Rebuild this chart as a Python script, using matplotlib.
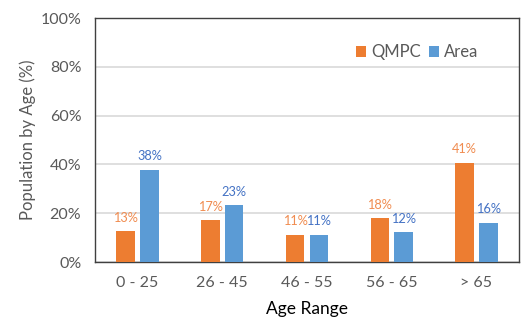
import numpy as np
import matplotlib
matplotlib.use("Agg")
import matplotlib.pyplot as plt

# Values (percent)
age_ranges = ["0 - 25", "26 - 45", "46 - 55", "56 - 65", "> 65"]
qmpc = [12.7, 17.1, 11.2, 17.9, 40.8]
area = [37.9, 23.3, 11.2, 12.2, 16.1]

orange = "#ED7D31"
blue = "#5B9BD5"
text_grey = "#595959"

plt.rcParams["font.family"] = ["Lato", "DejaVu Sans"]

fig = plt.figure(figsize=(5.23, 3.18), dpi=100)
ax = fig.add_axes([0.182, 0.176, 0.810, 0.767])

x = np.arange(len(age_ranges))
width = 0.22
offset = 0.14

bars_q = ax.bar(x - offset, qmpc, width, color=orange, label="QMPC", zorder=3)
bars_a = ax.bar(x + offset, area, width, color=blue, label="Area", zorder=3)

# Data labels
for rect, val in zip(bars_q, qmpc):
    ax.text(rect.get_x() + rect.get_width() / 2, val + 3, f"{val:.0f}%",
            ha="center", va="bottom", color="#F08C50", fontsize=9.2)
for rect, val in zip(bars_a, area):
    ax.text(rect.get_x() + rect.get_width() / 2, val + 3, f"{val:.0f}%",
            ha="center", va="bottom", color="#4472C4", fontsize=9.2)

ax.set_xlim(-0.5, len(age_ranges) - 0.5)
ax.set_ylim(0, 100)
ax.set_yticks(range(0, 101, 20))
ax.set_yticklabels([f"{v}%" for v in range(0, 101, 20)])
ax.set_xticks(x)
ax.set_xticklabels(age_ranges)

ax.yaxis.grid(True, color="#D9D9D9", linewidth=1.2, zorder=0)
ax.set_axisbelow(True)
for spine in ax.spines.values():
    spine.set_color("#404040")
    spine.set_linewidth(1.0)

ax.tick_params(axis="both", length=0, labelsize=11.5, colors=text_grey)
ax.tick_params(axis="x", pad=10)
ax.tick_params(axis="y", pad=10)

ax.set_xlabel("Age Range", fontsize=12.5, color="black", labelpad=8)
ax.set_ylabel("Population by Age (%)", fontsize=12, color=text_grey, labelpad=3)

ax.legend(loc="upper right", bbox_to_anchor=(0.94, 0.955), ncol=2, frameon=False,
          fontsize=12, handlelength=0.6, handleheight=0.6, handletextpad=0.3,
          columnspacing=0.5, labelcolor=text_grey)

fig.savefig("out.png", dpi=100)
